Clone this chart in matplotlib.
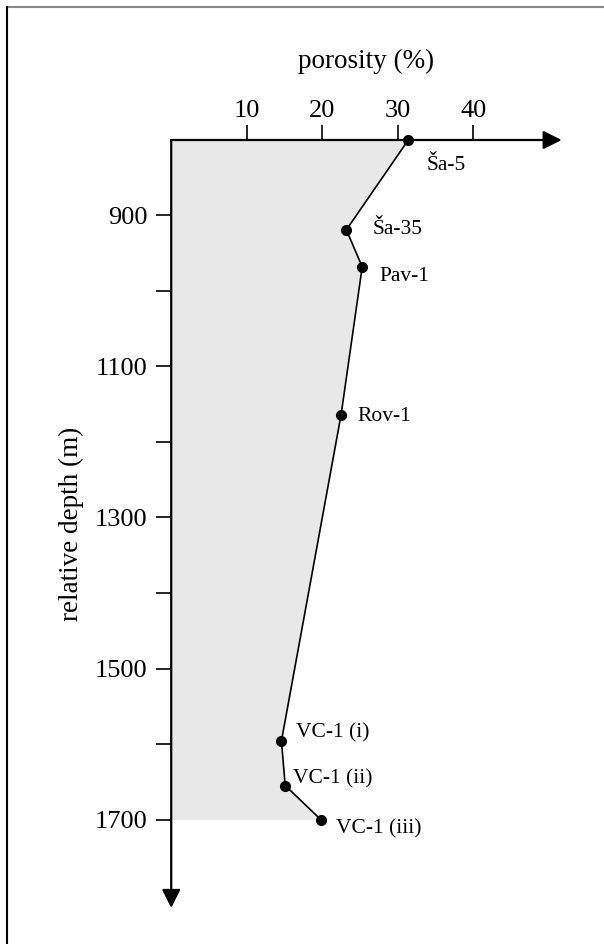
import matplotlib
matplotlib.use("Agg")
import matplotlib.pyplot as plt
from matplotlib.lines import Line2D

plt.rcParams['font.family'] = ['Liberation Serif', 'DejaVu Serif']

# data
wells = ["Ša-5", "Ša-35", "Pav-1", "Rov-1", "VC-1 (i)", "VC-1 (ii)", "VC-1 (iii)"]
porosity = [31.4, 23.2, 25.3, 22.5, 14.6, 15.1, 19.8]
depth = [800, 919, 968, 1164, 1596, 1655, 1700]
# label offsets in pixels (dx, dy)
lab_dx = [18, 26, 17, 16, 15, 8, 15]
lab_dy = [-26, 0, -10, -2, 8, 7, -9]

x_ticks = [10, 20, 30, 40]
y_major = [900, 1100, 1300, 1500, 1700]
y_minor = [1000, 1200, 1400, 1600]

W, H = 604, 944
fig = plt.figure(figsize=(W / 100, H / 100), dpi=100)

# axes placed so that x=0 at px 171 and depth 800 at px 140
x0, x1 = 171.2, 561.7
y0, y1 = 140, 908
ax = fig.add_axes([x0 / W, 1 - y1 / H, (x1 - x0) / W, (y1 - y0) / H])
ax.set_xlim(0, (x1 - x0) / 7.55)
ax.set_ylim(800 + (y1 - y0) / 0.755, 800)
ax.set_facecolor('none')

for s in ax.spines.values():
    s.set_visible(False)

# shaded area
ax.fill_betweenx(depth, 0, porosity, color='#e8e8e8', lw=0, zorder=1)

# axis lines with arrows
ax.annotate('', xy=(1, 1), xycoords='axes fraction', xytext=(0, 1),
            arrowprops=dict(arrowstyle='-|>', color='black', lw=1.6,
                            mutation_scale=28, shrinkA=0, shrinkB=0))
ax.annotate('', xy=(0, 0), xycoords='axes fraction', xytext=(0, 1),
            arrowprops=dict(arrowstyle='-|>', color='black', lw=1.6,
                            mutation_scale=28, shrinkA=0, shrinkB=0))

ax.xaxis.tick_top()
ax.set_xticks(x_ticks)
ax.set_yticks(y_major)
ax.set_yticks(y_minor, minor=True)
ax.tick_params(axis='x', direction='out', length=11, width=1.2, pad=2, labelsize=19)
ax.tick_params(axis='y', which='major', direction='out', length=11, width=1.2, pad=6, labelsize=19)
ax.tick_params(axis='y', which='minor', direction='out', length=11, width=1.2)

ax.set_xlabel('porosity (%)', fontsize=19.5, labelpad=23)
ax.xaxis.set_label_position('top')
ax.set_ylabel('relative depth (m)', fontsize=19.5, labelpad=8)

ax.plot(porosity, depth, color='black', lw=1.2, marker='o', ms=7, zorder=3, clip_on=False)

for name, px, d, dx, dy in zip(wells, porosity, depth, lab_dx, lab_dy):
    ax.annotate(name, (px, d), xytext=(dx, dy), textcoords='offset pixels',
                ha='left', va='center', fontsize=15.5)

# frame lines around the figure
fig.add_artist(Line2D([7 / W, 1], [1 - 7 / H, 1 - 7 / H], color='#888888', lw=1.5,
                      transform=fig.transFigure))
fig.add_artist(Line2D([7 / W, 7 / W], [0, 1 - 7 / H], color='black', lw=1.5,
                      transform=fig.transFigure))

fig.savefig('out.png', dpi=100)
